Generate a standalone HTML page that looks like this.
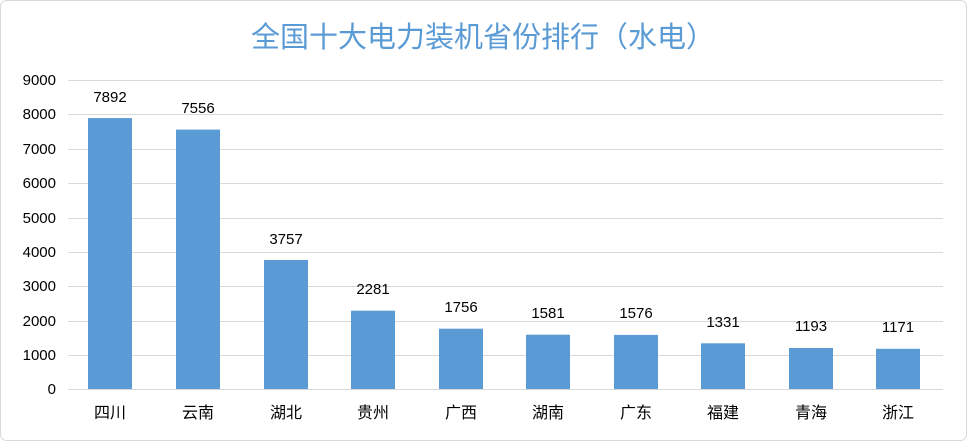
<!DOCTYPE html>
<html><head><meta charset="utf-8"><style>
body{margin:0;background:#fff;}
svg text{font-family:"Liberation Sans","Noto Sans CJK SC",sans-serif;}
</style></head><body>
<svg width="967" height="441" xmlns="http://www.w3.org/2000/svg">
<rect x="0.5" y="0.5" width="966" height="440" rx="6" fill="#fff" stroke="#d9d9d9"/>
<text x="483" y="47" text-anchor="middle" font-size="29" fill="#5b9bd5">全国十大电力装机省份排行（水电）</text>
<g stroke="#d9d9d9" stroke-width="1">
<line x1="68" x2="943" y1="80.5" y2="80.5"/>
<line x1="68" x2="943" y1="114.5" y2="114.5"/>
<line x1="68" x2="943" y1="149.5" y2="149.5"/>
<line x1="68" x2="943" y1="183.5" y2="183.5"/>
<line x1="68" x2="943" y1="218.5" y2="218.5"/>
<line x1="68" x2="943" y1="252.5" y2="252.5"/>
<line x1="68" x2="943" y1="286.5" y2="286.5"/>
<line x1="68" x2="943" y1="321.5" y2="321.5"/>
<line x1="68" x2="943" y1="355.5" y2="355.5"/>
<line x1="68" x2="943" y1="389.5" y2="389.5"/>
</g>
<g font-size="15" fill="#000" text-anchor="end">
<text x="56" y="85">9000</text><text x="56" y="119">8000</text><text x="56" y="154">7000</text>
<text x="56" y="188">6000</text><text x="56" y="223">5000</text><text x="56" y="257">4000</text>
<text x="56" y="291">3000</text><text x="56" y="326">2000</text><text x="56" y="360">1000</text>
<text x="56" y="394">0</text>
</g>
<g fill="#5b9bd5">
<rect x="88" y="118.1" width="44" height="270.9"/>
<rect x="176" y="129.6" width="44" height="259.4"/>
<rect x="264" y="260" width="44" height="129"/>
<rect x="351" y="310.7" width="44" height="78.3"/>
<rect x="439" y="328.7" width="44" height="60.3"/>
<rect x="526" y="334.7" width="44" height="54.3"/>
<rect x="614" y="334.9" width="44" height="54.1"/>
<rect x="701" y="343.3" width="44" height="45.7"/>
<rect x="789" y="348" width="44" height="41"/>
<rect x="876" y="348.8" width="44" height="40.2"/>
</g>
<g font-size="15" fill="#000" text-anchor="middle">
<text x="110" y="102">7892</text><text x="198" y="113">7556</text><text x="286" y="244">3757</text>
<text x="373" y="294">2281</text><text x="461" y="312">1756</text><text x="548" y="318">1581</text>
<text x="636" y="318">1576</text><text x="723" y="327">1331</text><text x="811" y="331">1193</text>
<text x="898" y="332">1171</text>
</g>
<g font-size="16" fill="#000" text-anchor="middle">
<text x="110" y="418">四川</text><text x="198" y="418">云南</text><text x="286" y="418">湖北</text>
<text x="373" y="418">贵州</text><text x="461" y="418">广西</text><text x="548" y="418">湖南</text>
<text x="636" y="418">广东</text><text x="723" y="418">福建</text><text x="811" y="418">青海</text>
<text x="898" y="418">浙江</text>
</g>
</svg>
</body></html>
